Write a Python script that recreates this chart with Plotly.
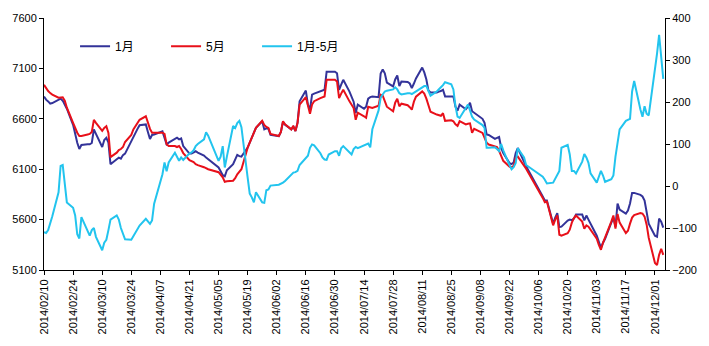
import plotly.graph_objects as go

# Trading days (weekly rows)
DAY_STR = """
02-10 02-11 02-12 02-13 02-14
02-17 02-18 02-19 02-20 02-21
02-24 02-25 02-26 02-27 02-28
03-03 03-04 03-05 03-06 03-07
03-10 03-11 03-12 03-13 03-14
03-17 03-18 03-19 03-20 03-21
03-24 03-25 03-26 03-27 03-28
03-31 04-01 04-02 04-03 04-04
04-08 04-09 04-10 04-11
04-14 04-15 04-16 04-17 04-18
04-21 04-22 04-23 04-24 04-25
04-28 04-29 04-30
05-05 05-06 05-07 05-08 05-09
05-12 05-13 05-14 05-15 05-16
05-19 05-20 05-21 05-22 05-23
05-26 05-27 05-28 05-29 05-30
06-03 06-04 06-05 06-06
06-09 06-10 06-11 06-12 06-13
06-16 06-17 06-18 06-19 06-20
06-23 06-24 06-25 06-26 06-27
06-30 07-01 07-02 07-03 07-04
07-07 07-08 07-09 07-10 07-11
07-14 07-15 07-16 07-17 07-18
07-21 07-22 07-23 07-24 07-25
07-28 07-29 07-30 07-31 08-01
08-04 08-05 08-06 08-07 08-08
08-11 08-12 08-13 08-14 08-15
08-18 08-19 08-20 08-21 08-22
08-25 08-26 08-27 08-28 08-29
09-01 09-02 09-03 09-04 09-05
09-09 09-10 09-11 09-12
09-15 09-16 09-17 09-18 09-19
09-22 09-23 09-24 09-25 09-26
09-29 09-30
10-08 10-09 10-10
10-13 10-14 10-15 10-16 10-17
10-20 10-21 10-22 10-23 10-24
10-27 10-28 10-29 10-30 10-31
11-03 11-04 11-05 11-06 11-07
11-10 11-11 11-12 11-13 11-14
11-17 11-18 11-19 11-20 11-21
11-24 11-25 11-26 11-27 11-28
12-01 12-02 12-03 12-04 12-05
"""
DATES = ["2014-" + d for d in DAY_STR.split()]

JAN = [
    6822, 6790, 6773, 6750, 6756,
    6790, 6800, 6780, 6740, 6700,
    6540, 6440, 6363, 6300, 6340,
    6347, 6347, 6360, 6495, 6450,
    6320, 6390, 6412, 6363, 6150,
    6199, 6215, 6205, 6240, 6255,
    6380, 6430, 6460, 6500, 6537,
    6544, 6470, 6400, 6440, 6445,
    6475, 6420, 6347, 6363,
    6400, 6412, 6396, 6405, 6330,
    6255, 6255, 6264, 6278, 6265,
    6235, 6215, 6200,
    6117, 6080, 6040, 6030, 6090,
    6150, 6200, 6242, 6230, 6225,
    6314, 6360, 6410, 6460, 6510,
    6576, 6495, 6505, 6500, 6440,
    6429, 6470, 6570, 6540,
    6495, 6520, 6478, 6560, 6773,
    6880, 6740, 6690, 6840, 6850,
    6870, 6875, 6888, 7068, 7068,
    7068, 7052, 6888, 6940, 6987,
    6870, 6820, 6770, 6658, 6741,
    6700, 6720, 6800, 6815, 6820,
    6815, 7050, 7090, 7052, 6960,
    6921, 6990, 7030, 6925, 6970,
    6965, 6950, 6904, 6950, 7000,
    7108, 7060, 6990, 6880, 6860,
    6860, 6870, 6875, 6888, 6822,
    6822, 6822, 6720, 6680, 6741,
    6695, 6720, 6760, 6675, 6660,
    6600, 6560, 6445, 6440,
    6400, 6410, 6419, 6310, 6260,
    6160, 6150, 6166, 6260, 6310,
    6180, 6130,
    5830, 5789, 5790,
    5560, 5620, 5664, 5526, 5530,
    5590, 5600, 5595, 5609, 5650,
    5650, 5592, 5640, 5600, 5560,
    5440, 5380, 5320, 5370, 5410,
    5570, 5620, 5530, 5760, 5700,
    5660, 5690, 5760, 5865, 5865,
    5845, 5830, 5790, 5680, 5560,
    5440, 5430, 5610, 5580, 5520,
]

MAY = [
    6937, 6900, 6875, 6855, 6840,
    6810, 6815, 6813, 6780, 6710,
    6560, 6500, 6462, 6430, 6430,
    6445, 6450, 6470, 6590, 6560,
    6480, 6510, 6527, 6460, 6220,
    6264, 6290, 6300, 6320, 6370,
    6440, 6495, 6530, 6560, 6590,
    6625, 6560, 6500, 6462, 6462,
    6462, 6450, 6347, 6330,
    6330, 6320, 6330, 6300, 6260,
    6190, 6183, 6170, 6150, 6140,
    6120, 6110, 6100,
    6070, 6050, 6020, 5975, 5980,
    5986, 6010, 6050, 6070, 6100,
    6314, 6360, 6410, 6460, 6510,
    6580, 6540, 6520, 6510, 6450,
    6429, 6470, 6576, 6545,
    6495, 6530, 6478, 6560, 6741,
    6815, 6720, 6650, 6741, 6775,
    6806, 6815, 6822, 6987, 6987,
    6987, 6970, 6806, 6850, 6888,
    6773, 6740, 6707, 6590, 6660,
    6625, 6610, 6720, 6715, 6707,
    6730, 6840, 6830, 6773, 6720,
    6675, 6760, 6800, 6724, 6750,
    6735, 6715, 6690, 6770, 6820,
    6872, 6850, 6800, 6720, 6670,
    6642, 6635, 6630, 6655, 6580,
    6585, 6576, 6545, 6530, 6576,
    6544, 6550, 6555, 6462, 6500,
    6460, 6412, 6363, 6345,
    6330, 6320, 6281, 6230, 6183,
    6125, 6117, 6133, 6215, 6225,
    6140, 6105,
    5815, 5773, 5780,
    5543, 5600, 5641, 5450, 5440,
    5465, 5500, 5570, 5615, 5640,
    5580, 5510, 5543, 5530, 5500,
    5410, 5350, 5300, 5370, 5420,
    5580, 5641, 5510, 5655, 5570,
    5467, 5490, 5560, 5620, 5645,
    5664, 5660, 5630, 5550, 5420,
    5170, 5150, 5250, 5310, 5250,
]

SPREAD = [
    -110, -112, -105, -90, -72,
    -15, 48, 50, 8, -39,
    -52, -70, -115, -125, -74,
    -110, -118, -105, -100, -121,
    -153, -135, -128, -105, -80,
    -70, -80, -100, -115, -127,
    -128, -120, -112, -105, -94,
    -78, -85, -90, -82, -42,
    28, 56, 35, 56,
    79, 70, 60, 68, 62,
    78, 80, 85, 95, 100,
    111, 128, 120,
    60, 70, 95, 44, 70,
    143, 138, 150, 155, 140,
    20, -18, -27, -39, -15,
    -39, -40, -10, -8, 1,
    3, 5, 8, 12,
    28, 32, 33, 36, 50,
    68, 72, 91, 99, 97,
    78, 68, 63, 62, 75,
    83, 83, 72, 90, 95,
    80, 75, 88, 93, 90,
    97, 100, 101, 92, 135,
    180, 210, 218, 225, 227,
    230, 235, 230, 221, 218,
    221, 221, 219, 222, 225,
    233, 238, 238, 226, 215,
    225, 229, 235, 240, 247,
    242, 230, 190, 165, 162,
    186, 194, 180, 165, 158,
    145, 138, 91, 91,
    92, 88, 83, 100, 85,
    50, 40, 45, 55, 90,
    68, 50,
    22, 15, 6,
    8, 18, 28, 36, 91,
    98, 75, 36, 36, 30,
    58, 76, 68, 55, 30,
    8, 22, 36, 25, 10,
    16, 25, 70, 100, 135,
    155, 158, 160, 225, 250,
    182, 165, 190, 172, 168,
    275, 315, 360, 300, 255,
]

assert len(DATES) == len(JAN) == len(MAY) == len(SPREAD)

NAMES = ["1月", "5月", "1月-5月"]
COLORS = ["#333399", "#E8101A", "#22C4EE"]

fig = go.Figure()
fig.add_trace(go.Scatter(x=DATES, y=JAN, name=NAMES[0], mode="lines",
                         line=dict(color=COLORS[0], width=2)))
fig.add_trace(go.Scatter(x=DATES, y=MAY, name=NAMES[1], mode="lines",
                         line=dict(color=COLORS[1], width=2)))
fig.add_trace(go.Scatter(x=DATES, y=SPREAD, name=NAMES[2], mode="lines", yaxis="y2",
                         line=dict(color=COLORS[2], width=2)))

axis_common = dict(showgrid=False, zeroline=False, showline=True, linecolor="black",
                   linewidth=1, ticks="outside", ticklen=4, tickcolor="black",
                   tickfont=dict(size=11, color="black"))

fig.update_layout(
    width=709, height=346,
    margin=dict(l=37, r=39, t=16, b=75),
    plot_bgcolor="white", paper_bgcolor="white",
    font=dict(family="Liberation Sans, Arial, Noto Sans CJK SC", size=11, color="black"),
    xaxis=dict(type="date", range=["2014-02-10", "2014-12-05 20:00"],
               tick0="2014-02-10", dtick=14 * 86400000, tickformat="%Y/%m/%d",
               tickangle=-90, **axis_common),
    yaxis=dict(range=[5100, 7600], tick0=5100, dtick=500, **axis_common),
    yaxis2=dict(range=[-200, 400], tick0=-200, dtick=100, overlaying="y", side="right",
                **axis_common),
    legend=dict(orientation="h", x=0.05, y=0.945, xanchor="left", yanchor="top",
                bgcolor="rgba(0,0,0,0)", entrywidth=46,
                font=dict(size=12, family="Liberation Sans, Noto Sans CJK SC")),
    showlegend=True,
)

fig.write_html("out.html")
